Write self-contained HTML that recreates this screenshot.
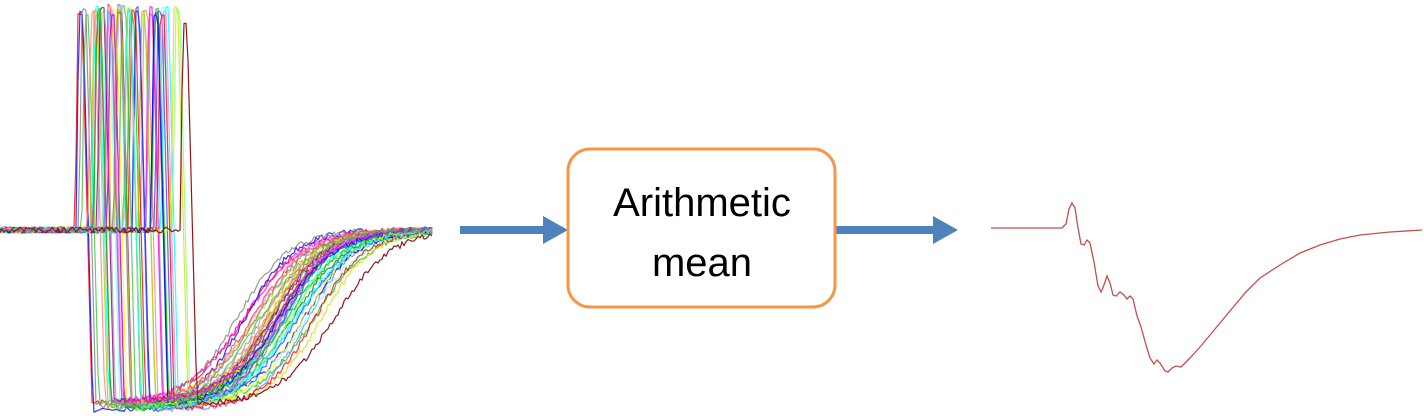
<!DOCTYPE html>
<html><head><meta charset="utf-8"><style>
html,body{margin:0;padding:0;background:#fff;width:1424px;height:416px;overflow:hidden}
svg{display:block}
</style></head><body>
<svg id="s" width="1424" height="416" viewBox="0 0 1424 416" xmlns="http://www.w3.org/2000/svg">
<g id="traces" fill="none" stroke-width="1.2" stroke-linejoin="round"></g>
<line x1="460" y1="230" x2="545" y2="230" stroke="#4F81BD" stroke-width="8"/>
<polygon points="543,216 568,230 543,244" fill="#4F81BD"/>
<line x1="836" y1="230" x2="935" y2="230" stroke="#4F81BD" stroke-width="8"/>
<polygon points="933,216 958,230 933,244" fill="#4F81BD"/>
<rect x="568" y="149" width="267" height="158" rx="22" ry="22" fill="#fff" stroke="#F79646" stroke-width="3"/>
<text x="702" y="216" text-anchor="middle" font-family="'Liberation Sans',sans-serif" font-size="40" fill="#000">Arithmetic</text>
<text x="702" y="276" text-anchor="middle" font-family="'Liberation Sans',sans-serif" font-size="40" fill="#000">mean</text>
<polyline fill="none" stroke="#C0504D" stroke-width="1.3" points="991,228 1062,228 1066,224 1069,209 1072,203 1075,208 1078,228 1081,244 1084,245 1087,240 1090,243 1094,262 1098,286 1101,292 1104,285 1107,276 1110,283 1113,295 1116,296 1120,292 1124,295 1127,299 1130,296 1133,299 1137,316 1141,327 1146,345 1150,358 1154,364 1157,360 1160,363 1165,371 1168,372 1172,368 1176,366 1181,367 1190,358 1200,347 1215,329 1230,311 1245,293 1260,278 1280,265 1300,253 1320,245 1340,239 1360,235 1390,232 1422,230"/>
</svg>
<script>
(function(){
var seed=7;function r(){seed=(seed*16807)%2147483647;return (seed-1)/2147483646;}
var cols=["#ff0000","#0000ff","#00cc00","#ffff00","#ff00ff","#00ffff","#808080","#ff8080","#8080ff","#80ff80","#c0c000","#800080","#008000","#ff80ff","#80ffff","#ff4040","#4040ff","#40c040","#dddd00","#a0a0a0"];
var g=document.getElementById("traces");var ns="http://www.w3.org/2000/svg";
var N=48;
for(var i=0;i<N;i++){
 var last=(i==N-1);
 var xs=last?180:75+r()*100;
 var top=last?22:4+r()*10;
 var low=400+r()*10;
 var mid=last?335:(235+(xs-75)*0.5+r()*45);
 var w=last?28:24+r()*6;
 var p=[];
 for(var x=0;x<=432;x+=2){
  var y;
  if(x<xs){y=230+(r()-0.5)*6;}
  else if(x<xs+3){y=230-(230-top)*(x-xs)/3;}
  else if(x<xs+7){y=top+(r())*3;}
  else if(x<xs+17){y=top+(low-top)*(x-xs-7)/10;}
  else{var s=1/(1+Math.exp(-(x-mid)/w));var s0=1/(1+Math.exp(-(xs+17-mid)/w));var t=(s-s0)/(1-s0);y=low-(low-230)*t+(r()-0.5)*6;}
  p.push(x+","+y.toFixed(1));
 }
 var pl=document.createElementNS(ns,"polyline");
 pl.setAttribute("points",p.join(" "));
 pl.setAttribute("stroke",last?"#8B1A1A":cols[i%cols.length]);
 pl.setAttribute("stroke-opacity",last?"1":"0.8");
 g.appendChild(pl);
}
})();
</script>
</body></html>
